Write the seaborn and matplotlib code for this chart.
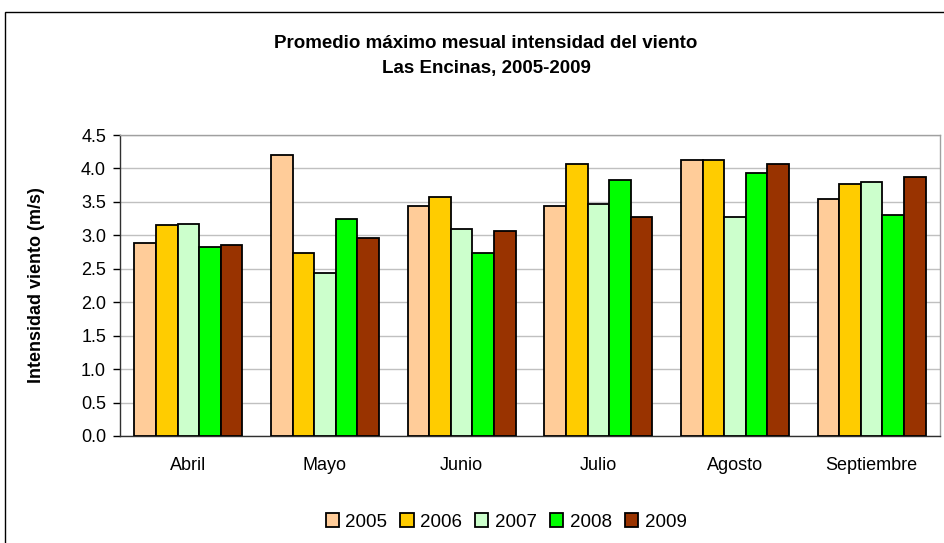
import matplotlib
matplotlib.use("Agg")
import matplotlib.pyplot as plt
import seaborn as sns
import pandas as pd
import numpy as np
from matplotlib.patches import Rectangle
from matplotlib.ticker import FixedLocator

months = ["Abril", "Mayo", "Junio", "Julio", "Agosto", "Septiembre"]
years = ["2005", "2006", "2007", "2008", "2009"]
v2005 = [2.88, 4.20, 3.44, 3.44, 4.12, 3.55]
v2006 = [3.15, 2.74, 3.58, 4.07, 4.12, 3.77]
v2007 = [3.17, 2.44, 3.09, 3.47, 3.28, 3.80]
v2008 = [2.82, 3.25, 2.74, 3.82, 3.93, 3.30]
v2009 = [2.85, 2.96, 3.07, 3.28, 4.07, 3.87]
colors = ["#FFCC99", "#FFCC00", "#CCFFCC", "#00FF00", "#993300"]

series = [v2005, v2006, v2007, v2008, v2009]
rows = []
for y, vals in zip(years, series):
    for m, v in zip(months, vals):
        rows.append({"Mes": m, "Año": y, "Valor": v})
df = pd.DataFrame(rows)

sns.set_style("white")
plt.rcParams["font.family"] = ["Liberation Sans", "DejaVu Sans"]
plt.rcParams["text.color"] = "black"
plt.rcParams["axes.labelcolor"] = "black"
plt.rcParams["xtick.color"] = "black"
plt.rcParams["ytick.color"] = "black"

fig = plt.figure(figsize=(9.44, 5.43), dpi=100)
ax = fig.add_axes([120/944, 1-436/543, 820/944, 301/543])

sns.barplot(data=df, x="Mes", y="Valor", hue="Año", order=months, hue_order=years,
            palette=colors, saturation=1, width=0.79, edgecolor="black", linewidth=1.3,
            ax=ax, legend=True, zorder=3)

ax.set_xlim(-0.5, 5.5)
ax.set_ylim(0, 4.5)
ax.set_yticks(np.arange(0, 4.51, 0.5))
ax.set_yticklabels([f"{t:.1f}" for t in np.arange(0, 4.51, 0.5)], fontsize=13)
ax.yaxis.grid(True, color="#c0c0c0", linewidth=1.0, zorder=0)
ax.set_axisbelow(True)
ax.set_xlabel("")
ax.set_ylabel("Intensidad viento (m/s)", fontsize=13, fontweight="bold", color="black")
ax.yaxis.set_label_coords(-0.0915, 0.5)
ax.tick_params(axis="x", which="major", length=0, labelsize=13, pad=15, labelcolor="black")
ax.xaxis.set_minor_locator(FixedLocator(np.arange(-0.5, 6.0, 1.0)))
ax.tick_params(axis="x", which="minor", length=5, width=1, color="black", direction="out")
ax.tick_params(axis="y", which="major", length=5, width=1, color="black", direction="out",
               left=True, pad=5, labelcolor="black")

for s in ["left", "bottom"]:
    ax.spines[s].set_color("#303030")
    ax.spines[s].set_linewidth(1.0)
for s in ["top", "right"]:
    ax.spines[s].set_color("#a0a0a0")
    ax.spines[s].set_linewidth(1.0)
    ax.spines[s].set_visible(True)

handles, labels = ax.get_legend_handles_labels()
ax.get_legend().remove()
leg = fig.legend(handles, labels, loc="center", bbox_to_anchor=(506/944, 1-522/543), ncol=5,
                 frameon=False, fontsize=13.5, handlelength=0.7, handleheight=0.7,
                 handletextpad=0.35, columnspacing=0.7)
for t in leg.get_texts():
    t.set_color("black")

fig.text(486/944, 1-43/543, "Promedio máximo mesual intensidad del viento",
         ha="center", va="center", fontsize=13.5, fontweight="bold", color="black")
fig.text(486/944, 1-69/543, "Las Encinas, 2005-2009",
         ha="center", va="center", fontsize=13.5, fontweight="bold", color="black")

fig.patches.append(Rectangle((5/944, -0.05), 1.0, 1-12/543+0.05, transform=fig.transFigure,
                             fill=False, edgecolor="black", linewidth=1.0))

fig.savefig("out.png", dpi=100)
